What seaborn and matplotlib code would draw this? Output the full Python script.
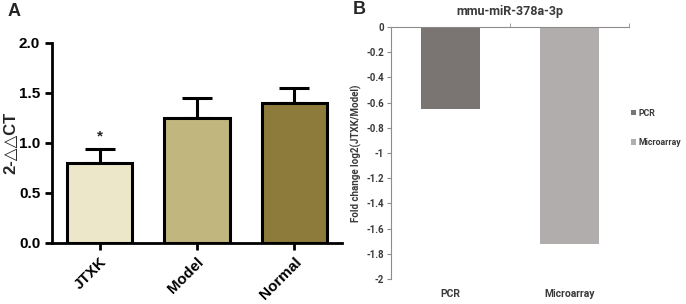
import matplotlib
matplotlib.use('Agg')
import matplotlib.pyplot as plt
import numpy as np
import seaborn as sns

# panel A: relative expression (2^-ddCT)
groups = ['JTXK', 'Model', 'Normal']
expr_mean = [0.80, 1.25, 1.40]
expr_err = [0.14, 0.20, 0.15]
group_colors = ['#EDE7C9', '#C1B67E', '#8C7B3B']

# panel B: fold change, PCR vs microarray
methods = ['PCR', 'Microarray']
fold_change = [-0.65, -1.72]
method_colors = ['#7A7473', '#B1ADAC']
yticks_b = [0, -0.2, -0.4, -0.6, -0.8, -1, -1.2, -1.4, -1.6, -1.8, -2]

sns.set_style('white')
plt.rcParams['font.family'] = ['Liberation Sans', 'DejaVu Sans']
fontB = ['Roboto', 'DejaVu Sans']

fig = plt.figure(figsize=(6.86, 3.04), dpi=100)

# ---- panel A
axA = fig.add_axes([52/686, 61/304, 290/686, 200/304])
sns.barplot(x=groups, y=expr_mean, hue=groups, palette=group_colors, width=0.67,
            saturation=1, edgecolor='black', linewidth=2.2, legend=False, ax=axA, zorder=3)
axA.errorbar(range(3), expr_mean, yerr=[np.zeros(3), expr_err], fmt='none',
             ecolor='black', elinewidth=2.2, capsize=11, capthick=2.2, zorder=2)
axA.text(0, 1.0, '*', ha='center', va='bottom', fontsize=11, fontweight='bold')
axA.set_ylim(0, 2.0)
axA.set_xlim(-0.49, 2.49)
axA.set_yticks([0, 0.5, 1.0, 1.5, 2.0])
axA.set_yticklabels(['0.0', '0.5', '1.0', '1.5', '2.0'])
for s in ['top', 'right']:
    axA.spines[s].set_visible(False)
for s in ['left', 'bottom']:
    axA.spines[s].set_color('black')
    axA.spines[s].set_linewidth(2)
axA.tick_params(axis='both', direction='out', length=5, width=2, colors='black',
                left=True, bottom=True, labelsize=11)
for lab in axA.get_xticklabels():
    lab.set_rotation(45)
    lab.set_ha('right')
    lab.set_rotation_mode('anchor')
    lab.set_fontweight('bold')
for lab in axA.get_yticklabels():
    lab.set_fontweight('bold')
axA.set_ylabel('2-△△CT', fontsize=12, fontweight='bold')
axA.yaxis.set_label_coords(-0.115, 0.5)

# ---- panel B
gray = '#3A3A3A'
axB = fig.add_axes([391/686, 25/304, 238/686, 252/304])
sns.barplot(x=methods, y=fold_change, hue=methods, palette=method_colors, width=0.5,
            saturation=1, edgecolor='none', legend=True, ax=axB)
axB.set_ylim(-2, 0)
axB.set_xlim(-0.5, 1.5)
axB.set_yticks(yticks_b)
axB.set_yticklabels(['{:g}'.format(v) for v in yticks_b])
axB.spines['bottom'].set_visible(False)
axB.spines['right'].set_visible(False)
axB.spines['top'].set_color('#8C8C8C')
axB.spines['left'].set_color('#8C8C8C')
axB.spines['top'].set_linewidth(0.8)
axB.spines['left'].set_linewidth(0.8)
axB.set_xticks([0.5, 1.5], minor=True)
axB.tick_params(axis='x', which='minor', top=True, bottom=False, direction='out',
                length=3, color='#8C8C8C')
axB.tick_params(axis='x', which='major', length=0, pad=7, labelsize=7.5, labelcolor=gray)
axB.tick_params(axis='y', left=True, direction='out', length=3, color='#8C8C8C',
                labelsize=7, labelcolor=gray, pad=2)
for lab in axB.get_xticklabels() + axB.get_yticklabels():
    lab.set_fontweight('bold')
    lab.set_family(fontB)
axB.set_xlabel('')
axB.set_ylabel('Fold change log2(JTXK/Model)', fontsize=7, fontweight='bold',
               color=gray, family=fontB, labelpad=3)
axB.set_title('mmu-miR-378a-3p', fontsize=9, fontweight='bold', color=gray,
              family=fontB, pad=9)
leg = axB.legend(loc='center left', bbox_to_anchor=(0.975, 0.6), frameon=False,
                 handlelength=0.6, handleheight=0.6, handletextpad=0.3, labelspacing=2.3,
                 prop={'family': fontB, 'weight': 'bold', 'size': 6.3})
for t in leg.get_texts():
    t.set_color(gray)

fig.text(8/686, 1 - 12/304, 'A', fontsize=13, fontweight='bold', va='center')
fig.text(353/686, 1 - 10/304, 'B', fontsize=13, fontweight='bold', va='center')

plt.savefig('out.png', dpi=100)
